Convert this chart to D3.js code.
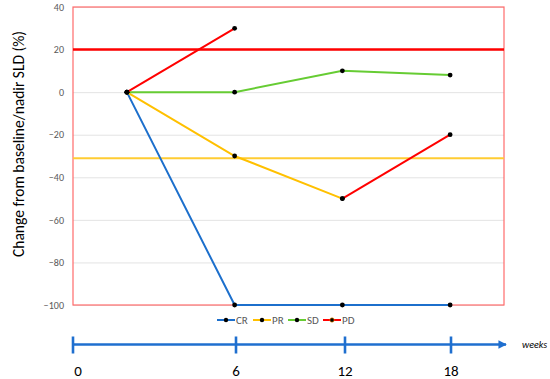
<!DOCTYPE html>
<html>
<head>
<meta charset="utf-8">
<script src="https://cdn.jsdelivr.net/npm/d3@7"></script>
<style>
  body { margin: 0; background: #fff; }
  svg { font-family: Calibri, Carlito, "Open Sans", sans-serif; }
</style>
</head>
<body>
<div id="chart"></div>
<script>
// data
var visits = ["0", "6", "12", "18"];
var crValues = [0, -100, -100, -100];
var prValues = [0, -30, -50, null];
var sdValues = [0, 0, 10, 8];
var pdValues = [0, 30, null, null];
var pdLate = [null, null, -50, -20];   // PR patient that progressed
var pdThreshold = 20;
var prThreshold = -31;
var yTicks = [40, 20, 0, -20, -40, -60, -80, -100];
var weekTicks = [0, 6, 12, 18];

var colors = { CR: "#1c6fcc", PR: "#ffc000", SD: "#66cc33", PD: "#ff0000" };

var svgW = 550, svgH = 379;
var margin = {top: 7, right: 46, bottom: 74, left: 73},
    width = svgW - margin.left - margin.right,
    height = svgH - margin.top - margin.bottom;

var svg = d3.select("#chart").append("svg")
    .attr("width", svgW)
    .attr("height", svgH);

var g = svg.append("g")
    .attr("transform", "translate(" + margin.left + "," + margin.top + ")");

var x = d3.scaleBand().domain(visits).range([0, width]);
var y = d3.scaleLinear().domain([-100, 40]).range([height, 0]);
var cx = function(i) { return x(visits[i]) + x.bandwidth() / 2; };

// gridlines
g.append("g")
  .call(d3.axisLeft(y).tickValues(yTicks).tickSize(-width).tickFormat(""))
  .call(function(a) {
    a.select(".domain").remove();
    a.selectAll("line").attr("stroke", "#e3e3e3").attr("stroke-width", 1);
  });

// y axis labels
g.append("g")
  .call(d3.axisLeft(y).tickValues(yTicks).tickSize(0).tickPadding(9))
  .call(function(a) {
    a.select(".domain").remove();
    a.selectAll("text").attr("fill", "#595959").style("font-size", "10px")
      .style("font-family", "Calibri, Carlito, 'Open Sans', sans-serif");
  });

// plot border
g.append("rect")
  .attr("width", width).attr("height", height)
  .attr("fill", "none").attr("stroke", "#ff6b6b").attr("stroke-width", 1.2);

// thresholds
g.append("line")
  .attr("x1", 0).attr("x2", width)
  .attr("y1", y(pdThreshold)).attr("y2", y(pdThreshold))
  .attr("stroke", colors.PD).attr("stroke-width", 2.6);
g.append("line")
  .attr("x1", 0).attr("x2", width)
  .attr("y1", y(prThreshold)).attr("y2", y(prThreshold))
  .attr("stroke", "#ffcc33").attr("stroke-width", 2);

var series = [
  {name: "CR", values: crValues, color: colors.CR},
  {name: "PR", values: prValues, color: colors.PR},
  {name: "SD", values: sdValues, color: colors.SD},
  {name: "PD", values: pdValues, color: colors.PD},
  {name: "PD", values: pdLate, color: colors.PD}
];

var line = d3.line()
  .defined(function(d) { return d != null; })
  .x(function(d, i) { return cx(i); })
  .y(function(d) { return y(d); });

series.forEach(function(s) {
  g.append("path")
    .attr("d", line(s.values))
    .attr("fill", "none")
    .attr("stroke", s.color)
    .attr("stroke-width", 2);
});

series.forEach(function(s) {
  g.selectAll(null)
    .data(s.values.map(function(v, i) { return {v: v, i: i}; }).filter(function(d) { return d.v != null; }))
    .enter().append("circle")
    .attr("cx", function(d) { return cx(d.i); })
    .attr("cy", function(d) { return y(d.v); })
    .attr("r", 2.4)
    .attr("fill", "#000");
});

// y title
svg.append("text")
  .attr("transform", "translate(24,144) rotate(-90)")
  .attr("text-anchor", "middle")
  .style("font-size", "15.5px")
  .attr("fill", "#000")
  .text("Change from baseline/nadir SLD (%)");

// legend
var legendItems = ["CR", "PR", "SD", "PD"];
var legendX = [217, 253, 288, 323];
var lg = svg.append("g").attr("transform", "translate(0,320)");
legendItems.forEach(function(name, i) {
  var it = lg.append("g").attr("transform", "translate(" + legendX[i] + ",0)");
  it.append("line").attr("x1", 0).attr("x2", 18).attr("y1", 0).attr("y2", 0)
    .attr("stroke", colors[name]).attr("stroke-width", 2);
  it.append("circle").attr("cx", 9).attr("cy", 0).attr("r", 2.2)
    .attr("fill", "#000")
    .attr("stroke", name === "PD" ? "#ff9900" : "none").attr("stroke-width", 0.6);
  it.append("text").attr("x", 19).attr("y", 3.8)
    .style("font-size", "11px").attr("fill", "#595959").text(name);
});

// weeks timeline
var tx = d3.scaleLinear().domain(weekTicks).range([73, 236, 345, 451]);
var timelineY = 344.5;
var blue = "#1f6fcf";
svg.append("defs").append("marker")
  .attr("id", "arrow").attr("viewBox", "0 0 10 10")
  .attr("refX", 9).attr("refY", 5)
  .attr("markerWidth", 4).attr("markerHeight", 3.5)
  .attr("markerUnits", "strokeWidth")
  .attr("orient", "auto")
  .append("path").attr("d", "M0,0L10,5L0,10z").attr("fill", blue);

svg.append("line")
  .attr("x1", tx(0)).attr("x2", 506)
  .attr("y1", timelineY).attr("y2", timelineY)
  .attr("stroke", blue).attr("stroke-width", 2.4)
  .attr("marker-end", "url(#arrow)");

svg.selectAll(".wtick")
  .data(weekTicks)
  .enter().append("line")
  .attr("class", "wtick")
  .attr("x1", function(d) { return tx(d); }).attr("x2", function(d) { return tx(d); })
  .attr("y1", timelineY - 8).attr("y2", timelineY + 9)
  .attr("stroke", blue).attr("stroke-width", 2.6);

svg.selectAll(".wlabel")
  .data(weekTicks)
  .enter().append("text")
  .attr("class", "wlabel")
  .attr("x", function(d) { return tx(d) + (d === 0 ? 5 : 0); })
  .attr("y", 376)
  .attr("text-anchor", "middle")
  .style("font-size", "15px")
  .attr("fill", "#000")
  .text(function(d) { return d; });

svg.append("text")
  .attr("x", 522).attr("y", 348)
  .style("font-size", "10px").style("font-style", "italic")
  .attr("fill", "#000")
  .text("weeks");
</script>
</body>
</html>
